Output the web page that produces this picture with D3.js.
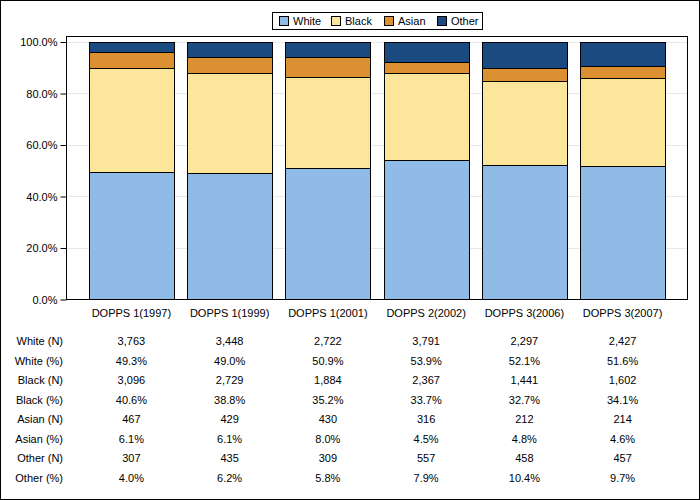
<!DOCTYPE html>
<html><head><meta charset="utf-8">
<script src="https://cdn.jsdelivr.net/npm/d3@7"></script>
<style>body{margin:0;background:#fff}svg{display:block;font-family:Arial,"Liberation Sans",sans-serif}</style>
</head><body><svg id="c" width="700" height="500"></svg>
<script>
const categories = ["DOPPS 1(1997)","DOPPS 1(1999)","DOPPS 1(2001)","DOPPS 2(2002)","DOPPS 3(2006)","DOPPS 3(2007)"];
const seriesNames = ["White","Black","Asian","Other"];
const whitePct = [49.3,49.0,50.9,53.9,52.1,51.6];
const blackPct = [40.6,38.8,35.2,33.7,32.7,34.1];
const asianPct = [6.1,6.1,8.0,4.5,4.8,4.6];
const otherPct = [4.0,6.2,5.8,7.9,10.4,9.7];
const whiteN = ["3,763","3,448","2,722","3,791","2,297","2,427"];
const blackN = ["3,096","2,729","1,884","2,367","1,441","1,602"];
const asianN = ["467","429","430","316","212","214"];
const otherN = ["307","435","309","557","458","457"];
const yTicks = [0,20,40,60,80,100];
const colors = ["#8FBBE6","#FBE69C","#DB9032","#1A4A7F"];

const svg = d3.select("#c");
const L=66, R=688, T=36, B=299;
const x = d3.scaleBand().domain(categories).range([L,R]).paddingInner(0.137).paddingOuter(0.234);
const y = d3.scaleLinear().domain([0,100]).range([299,41.5]);

svg.append("rect").attr("x",0.5).attr("y",0.5).attr("width",699).attr("height",499).attr("fill","#fff").attr("stroke","#000");

// gridlines
svg.append("g").selectAll("line").data(yTicks.slice(1)).join("line")
  .attr("x1",L).attr("x2",R).attr("y1",d=>Math.round(y(d))+0.5).attr("y2",d=>Math.round(y(d))+0.5)
  .attr("stroke","#e8e8e8");

const pct = [whitePct,blackPct,asianPct,otherPct];
const rows = categories.map((c,i)=>{const o={cat:c}; seriesNames.forEach((s,j)=>o[s]=pct[j][i]); return o;});
const stack = d3.stack().keys(seriesNames)(rows);
svg.append("g").selectAll("g").data(stack).join("g").attr("fill",(d,i)=>colors[i])
  .selectAll("rect").data(d=>d).join("rect")
  .attr("x",d=>Math.round(x(d.data.cat))+0.5)
  .attr("width",Math.round(x.bandwidth()))
  .attr("y",d=>Math.round(y(Math.min(d[1],100)))+0.5)
  .attr("height",d=>Math.round(y(d[0]))-Math.round(y(Math.min(d[1],100))))
  .attr("stroke","#000").attr("stroke-width",1);

// frame
svg.append("rect").attr("x",L+0.5).attr("y",T+0.5).attr("width",R-L-1).attr("height",B-T).attr("fill","none").attr("stroke","#000");

// y axis
const yAxis = d3.axisLeft(y).tickValues(yTicks).tickFormat(d=>d.toFixed(1)+"%").tickSize(6).tickPadding(3);
const ga = svg.append("g").attr("transform",`translate(${L+0.5},0.5)`).call(yAxis);
ga.select(".domain").remove();
ga.selectAll("text").attr("font-size",11).attr("font-family","Arial,'Liberation Sans',sans-serif").attr("fill","#000");
ga.selectAll("line").attr("stroke","#000");

// x labels
svg.append("g").selectAll("text").data(categories).join("text")
  .attr("x",d=>x(d)+x.bandwidth()/2).attr("y",317).attr("text-anchor","middle")
  .attr("font-size",11).text(d=>d);

// legend
const lg = svg.append("g");
lg.append("rect").attr("x",272.5).attr("y",12.5).attr("width",210).attr("height",17).attr("fill","#fff").attr("stroke","#000");
const legX = [279,331,384,437];
seriesNames.forEach((s,i)=>{
  lg.append("rect").attr("x",legX[i]+0.5).attr("y",16.5).attr("width",9).attr("height",9).attr("fill",colors[i]).attr("stroke","#000");
  lg.append("text").attr("x",legX[i]+14).attr("y",25).attr("font-size",11).text(s);
});

// table
const tableRows = [
  ["White (N)",whiteN],["White (%)",whitePct.map(v=>v.toFixed(1)+"%")],
  ["Black (N)",blackN],["Black (%)",blackPct.map(v=>v.toFixed(1)+"%")],
  ["Asian (N)",asianN],["Asian (%)",asianPct.map(v=>v.toFixed(1)+"%")],
  ["Other (N)",otherN],["Other (%)",otherPct.map(v=>v.toFixed(1)+"%")]
];
const rowY = d3.scaleLinear().domain([0,7]).range([345,481.5]);
const tg = svg.append("g").attr("font-size",11);
tableRows.forEach((r,i)=>{
  tg.append("text").attr("x",63).attr("y",rowY(i)).attr("text-anchor","end").text(r[0]);
  r[1].forEach((v,j)=>{
    tg.append("text").attr("x",x(categories[j])+x.bandwidth()/2).attr("y",rowY(i)).attr("text-anchor","middle").text(v);
  });
});
</script></body></html>
